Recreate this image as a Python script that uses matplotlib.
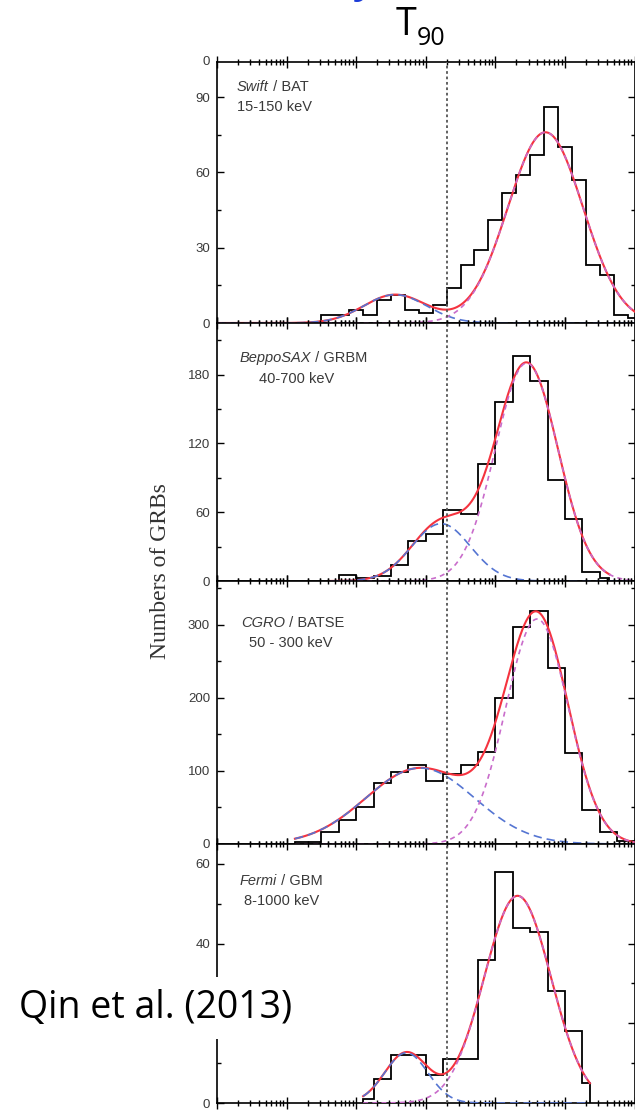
import numpy as np
import matplotlib.pyplot as plt
from matplotlib.ticker import LogLocator, FixedLocator, NullFormatter

plt.rcParams["font.family"] = "Liberation Sans"

# log10(T90 / s) bin edges and burst counts per instrument
swift_edges = [-1.5, -1.3, -1.1, -0.9, -0.7, -0.5, -0.3, -0.1, 0.1, 0.3, 0.5, 0.7,
               0.9, 1.1, 1.3, 1.5, 1.7, 1.9, 2.1, 2.3, 2.5, 2.7, 2.9, 3.1]
swift_counts = [3, 3, 5, 3, 9, 11, 5, 4, 7, 14, 23, 29, 41, 52, 59, 67, 86, 70,
                57, 23, 19, 3, 2]

sax_edges = [-1.25, -1.0, -0.75, -0.5, -0.25, 0.0, 0.25, 0.5, 0.75, 1.0, 1.25,
             1.5, 1.75, 2.0, 2.25, 2.5, 2.64]
sax_counts = [5, 3, 4, 14, 35, 41, 62, 58, 102, 156, 196, 174, 88, 54, 8, 3]

batse_edges = [-1.88, -1.5, -1.25, -1.0, -0.75, -0.5, -0.25, 0.0, 0.25, 0.5, 0.75,
               1.0, 1.25, 1.5, 1.75, 2.0, 2.25, 2.5, 2.75, 3.0]
batse_counts = [3, 16, 33, 50, 83, 98, 108, 86, 96, 108, 126, 200, 297, 319, 241,
                125, 47, 16, 4]

fermi_edges = [-0.9, -0.75, -0.5, -0.25, 0.0, 0.25, 0.5, 0.75, 1.0, 1.25, 1.5,
               1.75, 2.0, 2.25, 2.36]
fermi_counts = [1, 6, 12, 12, 7, 11, 11, 36, 58, 44, 43, 28, 18, 5]

# two-component lognormal fits: (amplitude, mean log T90, sigma)
swift_short, swift_long = (11.3, -0.44, 0.45), (76, 1.72, 0.54)
sax_short, sax_long = (50, 0.22, 0.42), (190, 1.45, 0.45)
batse_short, batse_long = (104, -0.08, 0.78), (308, 1.60, 0.45)
fermi_short, fermi_long = (12.6, -0.28, 0.31), (52, 1.32, 0.48)

# range (log T90) over which the fitted curves are drawn
swift_range = (-3.0, 3.0)
sax_range = (-1.37, 2.64)
batse_range = (-1.88, 3.0)
fermi_range = (-0.9, 2.36)

missions = ["Swift", "BeppoSAX", "CGRO", "Fermi"]
instruments = ["BAT", "GRBM", "BATSE", "GBM"]
bands = ["15-150 keV", "40-700 keV", "50 - 300 keV", "8-1000 keV"]
y_ticks = [[0, 30, 60, 90], [0, 60, 120, 180], [0, 100, 200, 300], [0, 20, 40, 60]]
# the 20 label of the last panel sits under the citation box
y_labels = [["0", "30", "60", "90"], ["0", "60", "120", "180"],
            ["0", "100", "200", "300"], ["0", "", "40", "60"]]
y_minor = [[15, 45, 75], [30, 90, 150, 210], [50, 150, 250, 350], [10, 30, 50]]
y_tops = [104, 225, 360, 65]
t_divide = 2.0

panels = [
    (swift_edges, swift_counts, swift_short, swift_long, swift_range),
    (sax_edges, sax_counts, sax_short, sax_long, sax_range),
    (batse_edges, batse_counts, batse_short, batse_long, batse_range),
    (fermi_edges, fermi_counts, fermi_short, fermi_long, fermi_range),
]

RED = "#f5333f"
BLUE = "#5575d2"
PURPLE = "#c96ccb"
TXT = "#3a3a3a"

W, H = 635, 1110
fig = plt.figure(figsize=(W / 100, H / 100), dpi=100)

# panel extents in pixels (top, bottom), stacked with no gap
extents = [(62, 323), (323, 581), (581, 844), (844, 1103)]
x_left, x_right = 217, 634.5

# label positions in axes fraction: (mission x, y), (band x, y)
label_pos = [((0.048, 0.904), (0.048, 0.828)),
             ((0.055, 0.864), (0.101, 0.783)),
             ((0.058, 0.840), (0.077, 0.764)),
             ((0.055, 0.858), (0.065, 0.780))]


def gauss(x, p):
    a, mu, sig = p
    return a * np.exp(-(x - mu) ** 2 / (2 * sig ** 2))


axes = []
for i, (edges, counts, short, long_, rng) in enumerate(panels):
    top, bot = extents[i]
    ax = fig.add_axes([x_left / W, 1 - bot / H, (x_right - x_left) / W, (bot - top) / H])
    axes.append(ax)
    ax.set_xscale("log")
    ax.set_xlim(1e-3, 1e3)
    ax.set_ylim(0, y_tops[i])

    ax.stairs(counts, 10 ** np.array(edges), color="black", lw=1.3, zorder=3)

    lx = np.linspace(rng[0], rng[1], 600)
    total = gauss(lx, short) + gauss(lx, long_)
    ax.plot(10 ** lx, total, color=RED, lw=1.5, zorder=4)
    cx = np.linspace(rng[0], 3.0 if i < 3 else rng[1], 600)
    ax.plot(10 ** cx, gauss(cx, short), color=BLUE, lw=1.2, ls=(0, (5, 3)), zorder=5)
    ax.plot(10 ** cx, gauss(cx, long_), color=PURPLE, lw=1.2, ls=(0, (3, 2.5)), zorder=5)

    ax.axvline(t_divide, color="#555555", lw=1.3, ls=(0, (1.5, 1.5)), zorder=6)

    ax.xaxis.set_major_locator(LogLocator(base=10, numticks=12))
    ax.xaxis.set_minor_locator(LogLocator(base=10, subs=np.arange(2, 10), numticks=12))
    ax.xaxis.set_minor_formatter(NullFormatter())
    ax.tick_params(axis="x", which="both", direction="inout", top=True, bottom=True,
                   labelbottom=False, width=1.0)
    ax.tick_params(axis="x", which="major", length=8)
    ax.tick_params(axis="x", which="minor", length=4.5)

    ax.set_yticks(y_ticks[i], y_labels[i])
    ax.yaxis.set_minor_locator(FixedLocator(y_minor[i]))
    ax.tick_params(axis="y", which="both", direction="in", left=True, right=True,
                   labelsize=9.5, labelcolor=TXT, width=1.0, pad=5)
    ax.tick_params(axis="y", which="major", length=5)
    ax.tick_params(axis="y", which="minor", length=3)
    for s in ax.spines.values():
        s.set_linewidth(1.2)

    (mx, my), (bx, by) = label_pos[i]
    t = ax.text(mx, my, missions[i], style="italic", transform=ax.transAxes,
                va="center", ha="left", fontsize=10.5, color=TXT)
    ax.annotate(" / " + instruments[i], xy=(1, 0.5), xycoords=t, va="center",
                ha="left", fontsize=10.5, color=TXT)
    ax.text(bx, by, bands[i], transform=ax.transAxes, va="center", ha="left",
            fontsize=10.5, color=TXT)

# zero label of the panel stacked above the first one
axes[0].annotate("0", xy=(0, 1), xycoords="axes fraction", xytext=(-5, 0),
                 textcoords="offset points", ha="right", va="center",
                 fontsize=9.5, color=TXT)

fig.text(160 / W, 1 - 571.5 / H, "Numbers of GRBs", rotation=90, ha="center",
         va="center", fontsize=17, family="Liberation Serif", color="#333333")

fig.text(396 / W, 1 - 35 / H, "T", fontsize=27, family="Open Sans",
         ha="left", va="baseline")
fig.text(417 / W, 1 - 45 / H, "90", fontsize=18, family="Open Sans",
         ha="left", va="baseline")
fig.text(352 / W, 1 + 6.5 / H, "y", fontsize=27, family="Open Sans",
         fontweight="bold", color="#1b3bd8", ha="left", va="baseline")

fig.text(19 / W, 1 - 1018 / H, "Qin et al. (2013)", fontsize=27, family="Open Sans",
         ha="left", va="baseline",
         bbox=dict(facecolor="white", edgecolor="none", pad=9))

fig.savefig("out.png", dpi=100)
